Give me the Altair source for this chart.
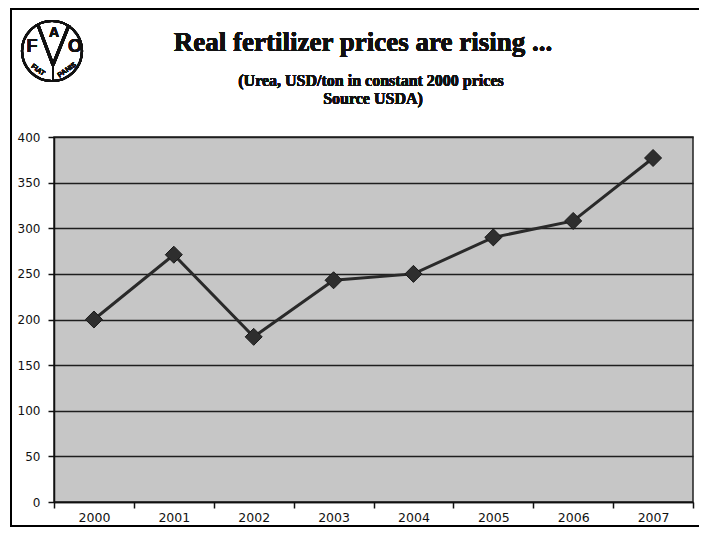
import altair as alt
import pandas as pd

years = ["2000", "2001", "2002", "2003", "2004", "2005", "2006", "2007"]
prices = [200, 271, 181, 243, 250, 290, 308, 377]
y_ticks = [0, 50, 100, 150, 200, 250, 300, 350, 400]

title_text = "Real fertilizer prices are rising ..."
subtitle_1 = "(Urea, USD/ton in constant 2000 prices"
subtitle_2 = "Source USDA)"

df = pd.DataFrame({"year": years, "price": prices})

W, H = 639, 365

x_enc = alt.X(
    "year:O",
    sort=years,
    scale=alt.Scale(paddingInner=0, paddingOuter=0),
    axis=alt.Axis(
        title=None,
        labelAngle=0,
        tickBand="extent",
        grid=False,
        ticks=True,
        tickSize=6,
        tickColor="#111",
        tickWidth=1.5,
        domainColor="#111",
        domainWidth=1.5,
        labelFont="DejaVu Sans",
        labelFontSize=12.5,
        labelColor="#111",
        labelPadding=3,
    ),
)
y_enc = alt.Y(
    "price:Q",
    scale=alt.Scale(domain=[0, 400], nice=False),
    axis=alt.Axis(
        title=None,
        values=y_ticks,
        grid=True,
        gridColor="#1e1e1e",
        gridWidth=1.6,
        tickSize=6,
        tickColor="#111",
        tickWidth=1.5,
        domainColor="#111",
        domainWidth=1.5,
        labelFont="DejaVu Sans",
        labelFontSize=12,
        labelColor="#111",
        labelPadding=8,
    ),
)

base = alt.Chart(df)
line = base.mark_line(color="#2a2a2a", strokeWidth=3).encode(x=x_enc, y=y_enc)
pts = base.mark_point(shape="diamond", filled=True, size=290, color="#2e2e2e", opacity=1,
                      stroke="#1a1a1a", strokeWidth=1).encode(x=x_enc, y=y_enc)

# outer frame
frame = alt.Chart(df).mark_rect(fill=None, stroke="#000", strokeWidth=2).encode(
    x=alt.value(-43), x2=alt.value(660), y=alt.value(-128), y2=alt.value(389)
)

# titles
t_title = alt.Chart(df).mark_text(
    text=title_text, font="Liberation Serif", fontWeight="bold", fontSize=27,
    align="center", baseline="alphabetic", color="#111"
).encode(x=alt.value(309), y=alt.value(-86))
t_sub1 = alt.Chart(df).mark_text(
    text=subtitle_1, font="Liberation Serif", fontWeight="bold", fontSize=16,
    align="center", baseline="alphabetic", color="#111"
).encode(x=alt.value(317), y=alt.value(-51))
t_sub2 = alt.Chart(df).mark_text(
    text=subtitle_2, font="Liberation Serif", fontWeight="bold", fontSize=16,
    align="center", baseline="alphabetic", color="#111"
).encode(x=alt.value(319), y=alt.value(-33))

# FAO logo
logo_circle = alt.Chart(df).mark_point(shape="circle", size=3600, filled=False,
                                      color="#111", strokeWidth=2.2, opacity=1).encode(
    x=alt.value(-2), y=alt.value(-86)
)
logo_F = alt.Chart(df).mark_text(text="F", font="Liberation Sans", fontSize=18, fontWeight="bold",
                                 color="#111", baseline="middle").encode(x=alt.value(-22), y=alt.value(-90))
logo_A = alt.Chart(df).mark_text(text="A", font="Liberation Sans", fontSize=14, fontWeight="bold",
                                 color="#111", baseline="middle").encode(x=alt.value(0), y=alt.value(-104))
logo_O = alt.Chart(df).mark_text(text="O", font="Liberation Sans", fontSize=18, fontWeight="bold",
                                 color="#111", baseline="middle").encode(x=alt.value(21), y=alt.value(-90))
logo_v1 = alt.Chart(df).mark_rule(color="#111", strokeWidth=3).encode(
    x=alt.value(-16), x2=alt.value(-1), y=alt.value(-112), y2=alt.value(-72))
logo_v2 = alt.Chart(df).mark_rule(color="#111", strokeWidth=3).encode(
    x=alt.value(15), x2=alt.value(-1), y=alt.value(-112), y2=alt.value(-72))
logo_stem = alt.Chart(df).mark_rule(color="#111", strokeWidth=2).encode(
    x=alt.value(-1), x2=alt.value(-1), y=alt.value(-72), y2=alt.value(-57))
logo_fiat = alt.Chart(df).mark_text(text="FIAT", font="Liberation Sans", fontSize=7,
                                    fontWeight="bold", color="#111", angle=35).encode(
    x=alt.value(-16), y=alt.value(-67))
logo_panis = alt.Chart(df).mark_text(text="PANIS", font="Liberation Sans", fontSize=7,
                                     fontWeight="bold", color="#111", angle=325).encode(
    x=alt.value(13), y=alt.value(-67))

chart = alt.layer(
    line, pts, frame, t_title, t_sub1, t_sub2,
    logo_circle, logo_v1, logo_v2, logo_stem, logo_F, logo_A, logo_O, logo_fiat, logo_panis,
).properties(
    width=W, height=H,
    autosize=alt.AutoSizeParams(type="none"),
    padding={"left": 46, "top": 129, "right": 6, "bottom": 26},
    background="white",
).configure_view(
    fill="#c6c6c6", stroke="#222", strokeWidth=1.5
)

chart.save("out.html", embed_options={"renderer": "svg", "actions": False})
